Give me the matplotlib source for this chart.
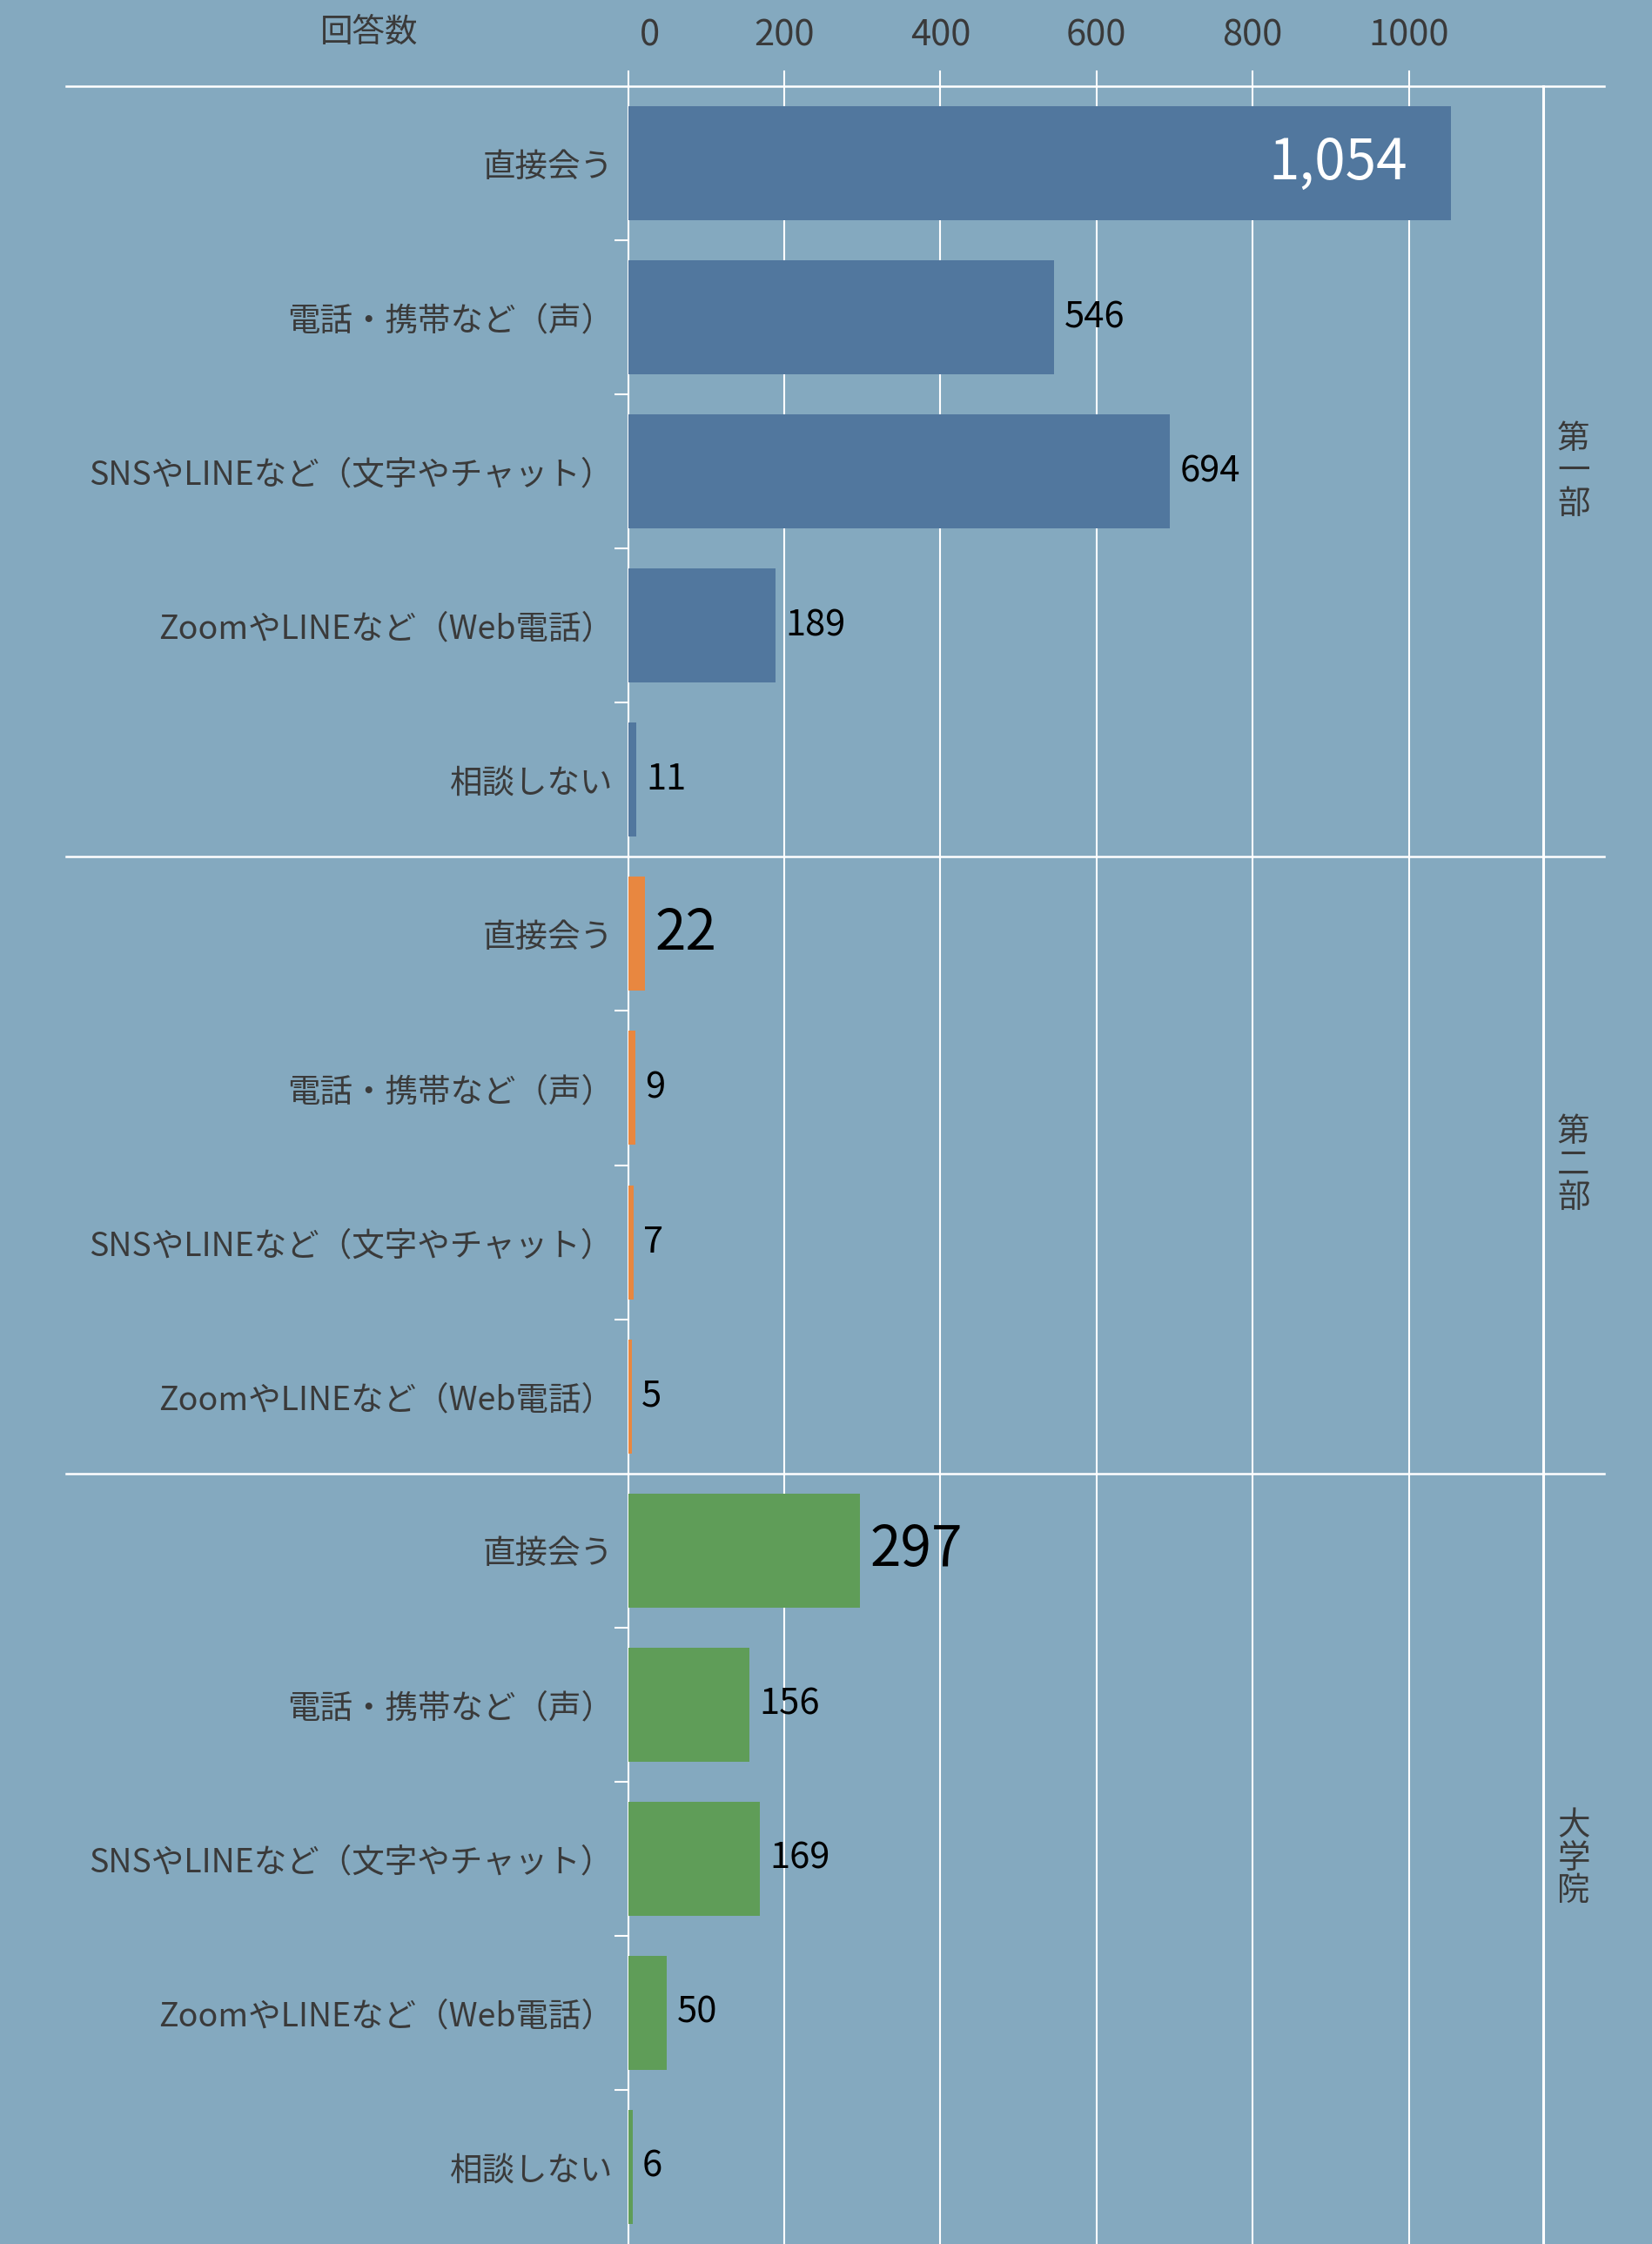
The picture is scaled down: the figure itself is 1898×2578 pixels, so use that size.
import matplotlib
matplotlib.use("Agg")
import matplotlib.pyplot as plt
from matplotlib import transforms
from matplotlib.lines import Line2D
from matplotlib.ticker import FixedLocator

plt.rcParams['font.family'] = ['Noto Sans CJK JP', 'DejaVu Sans']

# ==========================================
# DATA
# ==========================================

groups = ["第一部", "第二部", "大学院"]

cats_1 = ["直接会う", "電話・携帯など（声）", "SNSやLINEなど（文字やチャット）",
          "ZoomやLINEなど（Web電話）", "相談しない"]
vals_1 = [1054, 546, 694, 189, 11]

cats_2 = ["直接会う", "電話・携帯など（声）", "SNSやLINEなど（文字やチャット）",
          "ZoomやLINEなど（Web電話）"]
vals_2 = [22, 9, 7, 5]

cats_3 = ["直接会う", "電話・携帯など（声）", "SNSやLINEなど（文字やチャット）",
          "ZoomやLINEなど（Web電話）", "相談しない"]
vals_3 = [297, 156, 169, 50, 6]

x_ticks = [0, 200, 400, 600, 800, 1000]
x_title = "回答数"

# ==========================================
# STYLE
# ==========================================

bg = "#84a9bf"
colors = ["#51779e", "#e88740", "#5f9d58"]
text_col = "#3a3a3a"
W, H = 1898, 2578

fig = plt.figure(figsize=(W / 100, H / 100), dpi=100)
fig.patch.set_facecolor(bg)

all_cats = [cats_1, cats_2, cats_3]
all_vals = [vals_1, vals_2, vals_3]

gs = fig.add_gridspec(3, 1, height_ratios=[len(c) for c in all_cats],
                      left=721.5 / W, right=1773 / W,
                      top=1 - 99 / H, bottom=0, hspace=0)

axes = []
for k in range(3):
    ax = fig.add_subplot(gs[k])
    axes.append(ax)
    cats, vals = all_cats[k], all_vals[k]
    ypos = list(range(len(cats)))

    ax.set_facecolor(bg)
    ax.barh(ypos, vals, height=0.74, color=colors[k], zorder=3)
    ax.set_xlim(0, 1172)
    ax.set_ylim(len(cats) - 0.5, -0.5)

    ax.set_xticks(x_ticks)
    ax.grid(axis="x", color="white", linewidth=1.5, zorder=1)
    ax.set_yticks(ypos)
    ax.set_yticklabels(cats, fontsize=27, color=text_col)
    ax.yaxis.set_minor_locator(FixedLocator([i + 0.5 for i in range(len(cats) - 1)]))
    ax.tick_params(axis="y", which="major", length=0, pad=12)
    ax.tick_params(axis="y", which="minor", length=11.5, width=1.5, color="white")

    for s in ["top", "bottom"]:
        ax.spines[s].set_visible(False)
    ax.spines["left"].set_color("white")
    ax.spines["left"].set_linewidth(1.5)
    ax.spines["right"].set_color("white")
    ax.spines["right"].set_linewidth(2.2)

    if k == 0:
        ax.xaxis.set_ticks_position("top")
        ax.tick_params(axis="x", which="major", length=0, pad=27,
                       labelsize=30, labelcolor=text_col,
                       labeltop=True, labelbottom=False)
    else:
        ax.tick_params(axis="x", length=0, labeltop=False, labelbottom=False)

    # value labels
    for i, v in enumerate(vals):
        big = (i == 0)
        size = 46 if big else 30
        if v > 900:
            ax.annotate(f"{v:,}", (v, i), xytext=(-36, 0), textcoords="offset points",
                        ha="right", va="center", fontsize=size, color="white", zorder=4)
        else:
            ax.annotate(f"{v:,}", (v, i), xytext=(8, 0), textcoords="offset points",
                        ha="left", va="center", fontsize=size, color="black", zorder=4)

    # facet strip label
    strip_tr = transforms.blended_transform_factory(fig.transFigure, ax.transAxes)
    ax.text(1808 / W, 0.5, "\n".join(groups[k]), transform=strip_tr,
            ha="center", va="center", fontsize=27, color=text_col, linespacing=0.95)

# the "0" label sits a bit to the right of its gridline in the original
top_ax = axes[0]
zero_lab = top_ax.xaxis.get_major_ticks()[0].label2
zero_lab.set_transform(zero_lab.get_transform() +
                       transforms.ScaledTranslation(0.25, 0, fig.dpi_scale_trans))

# gridlines continue a little above the first panel
top_y = top_ax.get_position().y1
tr = transforms.blended_transform_factory(top_ax.transData, fig.transFigure)
for t in x_ticks:
    top_ax.plot([t, t], [top_y, 1 - 82 / H], transform=tr, color="white",
                linewidth=1.5, clip_on=False)

# panel separators
for ax in axes:
    y = ax.get_position().y1
    fig.add_artist(Line2D([76 / W, 1843 / W], [y, y], color="white", linewidth=1.8))

fig.text(424 / W, 1 - 37 / H, x_title, ha="center", va="center",
         fontsize=27, color=text_col)

plt.savefig("out.png", dpi=100, facecolor=bg)
